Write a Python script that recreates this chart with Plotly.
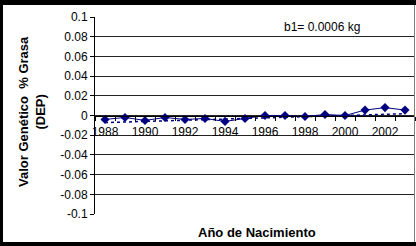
import plotly.graph_objects as go

years = [1988, 1989, 1990, 1991, 1992, 1993, 1994, 1995,
         1996, 1997, 1998, 1999, 2000, 2001, 2002, 2003]
dep_values = [-0.004, -0.002, -0.005, -0.002, -0.004, -0.003, -0.006, -0.003,
              0.0, 0.0, -0.001, 0.001, 0.0, 0.0055, 0.008, 0.0055]
trend_years = [1988, 2003]
trend_values = [-0.0072, 0.0018]
x_tick_years = [1988, 1990, 1992, 1994, 1996, 1998, 2000, 2002]
x_tick_labels = ["1988", "1990", "1992", "1994", "1996", "1998", "2000", "2002"]
y_tick_values = [0.1, 0.08, 0.06, 0.04, 0.02, 0, -0.02, -0.04, -0.06, -0.08, -0.1]
y_tick_labels = ["0.1", "0.08", "0.06", "0.04", "0.02", "0", "-0.02", "-0.04", "-0.06", "-0.08", "-0.1"]

W, H = 416, 246
L, R, T, B = 95, 1, 17, 32
pw, ph = W - L - R, H - T - B

def px(x):
    return (x - L) / pw

def py(y):
    return 1 - (y - T) / ph

navy = "#000080"
font = "Liberation Sans, Arial, sans-serif"

fig = go.Figure()
fig.add_trace(go.Scatter(x=trend_years, y=trend_values, mode="lines",
                         line=dict(color=navy, width=1.5, dash="dot"),
                         hoverinfo="skip", showlegend=False))
fig.add_trace(go.Scatter(x=years, y=dep_values, mode="lines+markers",
                         line=dict(color=navy, width=1),
                         marker=dict(symbol="diamond", size=7, color=navy),
                         showlegend=False))

fig.update_layout(
    width=W, height=H,
    margin=dict(l=L, r=R, t=T, b=B),
    paper_bgcolor="black",
    plot_bgcolor="white",
    font=dict(family=font, size=12, color="black"),
    xaxis=dict(range=[1987.5, 2003.5], anchor="free", position=0.5,
               tickvals=x_tick_years, ticktext=x_tick_labels, ticks="",
               ticklabelstandoff=5,
               showgrid=False, zeroline=False, showline=True,
               linecolor="black", linewidth=1,
               tickfont=dict(size=12, color="black"),
               minor=dict(tick0=1987.5, dtick=1, ticks="outside", ticklen=4,
                          tickcolor="black", showgrid=False)),
    yaxis=dict(range=[-0.1, 0.1], tickvals=y_tick_values, ticktext=y_tick_labels,
               ticks="outside", ticklen=4, tickcolor="black",
               showgrid=True, gridcolor="#222222", gridwidth=1,
               zeroline=False, showline=True, linecolor="black", linewidth=1,
               tickfont=dict(size=12, color="black")),
    shapes=[
        dict(type="rect", xref="paper", yref="paper", layer="below",
             x0=px(3), x1=px(416), y0=py(242), y1=py(5),
             fillcolor="white", line=dict(width=0)),
        dict(type="line", xref="paper", yref="paper",
             x0=px(414.5), x1=px(414.5), y0=py(5), y1=py(242),
             line=dict(color="#808080", width=1)),
    ],
    annotations=[
        dict(text="b1= 0.0006 kg", xref="paper", yref="paper",
             x=px(282), y=py(27), xanchor="left", yanchor="middle",
             showarrow=False, font=dict(size=12, color="black")),
        dict(text="<b>Año de Nacimiento</b>", xref="paper", yref="paper",
             x=px(256.5), y=py(232), xanchor="center", yanchor="middle",
             showarrow=False, font=dict(size=13, color="black")),
        dict(text="<b>Valor Genético  % Grasa<br>(DEP)</b>", xref="paper", yref="paper",
             x=px(32), y=py(112), xanchor="center", yanchor="middle",
             textangle=-90, showarrow=False,
             font=dict(size=13, color="black")),
    ],
)

fig.write_html("out.html", config={"displayModeBar": False},
               post_script="document.body.style.margin='0';document.body.style.padding='0';")
